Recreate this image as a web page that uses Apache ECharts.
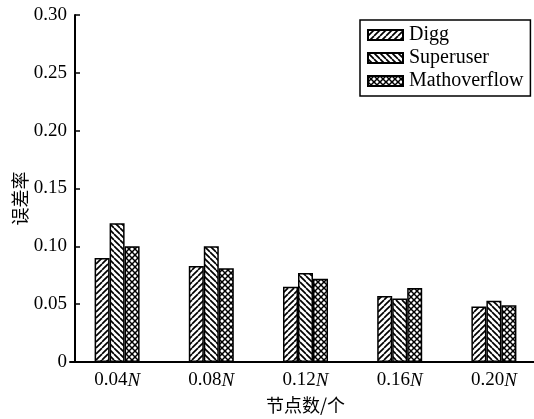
<!DOCTYPE html>
<html><head><meta charset="utf-8">
<script src="https://cdn.jsdelivr.net/npm/echarts@6/dist/echarts.min.js"></script>
<style>html,body{margin:0;padding:0;background:#fff}#c{width:534px;height:419px}</style>
</head><body><div id="c"></div>
<script>
var categories = ['0.04', '0.08', '0.12', '0.16', '0.20'];
var seriesNames = ['Digg', 'Superuser', 'Mathoverflow'];
var diggValues = [0.090, 0.083, 0.065, 0.057, 0.048];
var superuserValues = [0.120, 0.100, 0.077, 0.055, 0.053];
var mathoverflowValues = [0.100, 0.081, 0.072, 0.064, 0.049];
var yTicks = [0, 0.05, 0.10, 0.15, 0.20, 0.25, 0.30];

function makePattern(kind) {
  var s = 6;
  var c = document.createElement('canvas');
  c.width = s; c.height = s;
  var g = c.getContext('2d');
  g.fillStyle = '#fff'; g.fillRect(0, 0, s, s);
  g.strokeStyle = '#000'; g.lineWidth = 1.7;
  function fwd() {
    for (var k = -1; k <= 1; k++) {
      g.beginPath(); g.moveTo(k * s, s); g.lineTo(k * s + s, 0); g.stroke();
    }
  }
  function back() {
    for (var k = -1; k <= 1; k++) {
      g.beginPath(); g.moveTo(k * s, 0); g.lineTo(k * s + s, s); g.stroke();
    }
  }
  if (kind === 0) fwd();
  else if (kind === 1) back();
  else { g.lineWidth = 1.5; fwd(); back(); }
  return {image: c, repeat: 'repeat'};
}

var allValues = [diggValues, superuserValues, mathoverflowValues];
var chart = echarts.init(document.getElementById('c'));
var serif = '"Liberation Serif", "Times New Roman", serif';
var cjk = '"Noto Sans CJK SC", sans-serif';
var series = seriesNames.map(function (name, i) {
  return {
    name: name,
    type: 'bar',
    data: allValues[i],
    barWidth: 15,
    barGap: '0%',
    itemStyle: {color: makePattern(i), borderColor: '#000', borderWidth: 1.5},
    emphasis: {disabled: true}
  };
});

chart.setOption({
  animation: false,
  grid: {left: 70, top: 15, bottom: 57, width: 471, outerBoundsMode: 'none', containLabel: false},
  legend: {
    orient: 'vertical',
    left: 360, top: 20,
    itemWidth: 35, itemHeight: 10,
    itemGap: 3,
    padding: [5, 7, 5, 7],
    borderColor: '#000', borderWidth: 1.5,
    textStyle: {fontFamily: serif, fontSize: 20, color: '#000', padding: [0, 0, 0, 1]},
    data: seriesNames.map(function (n) { return {name: n, icon: 'rect'}; })
  },
  xAxis: {
    type: 'category',
    data: categories,
    axisLine: {lineStyle: {color: '#000', width: 2}},
    axisTick: {show: false},
    axisLabel: {
      margin: 9,
      formatter: function (v) { return '{a|' + v + '}{b|N}'; },
      rich: {
        a: {fontFamily: serif, fontSize: 19, color: '#000'},
        b: {fontFamily: serif, fontSize: 19, color: '#000', fontStyle: 'italic'}
      }
    },
    name: '节点数/个',
    nameLocation: 'middle',
    nameGap: 34,
    nameMoveOverlap: false,
    nameTextStyle: {fontFamily: cjk, fontSize: 18, color: '#000'}
  },
  yAxis: {
    type: 'value',
    min: 0, max: 0.30, interval: 0.05,
    offset: -5,
    splitLine: {show: false},
    axisLine: {show: true, lineStyle: {color: '#000', width: 2}},
    axisTick: {show: true, inside: true, length: 5, lineStyle: {color: '#000', width: 1.5}},
    axisLabel: {
      margin: 8,
      fontFamily: serif, fontSize: 19, color: '#000',
      formatter: function (v) { return v === 0 ? '0' : v.toFixed(2); }
    },
    name: '误差率',
    nameLocation: 'middle',
    nameGap: 46,
    nameMoveOverlap: false,
    nameRotate: 90,
    nameTextStyle: {fontFamily: cjk, fontSize: 18, color: '#000', padding: [0, 20, 0, 0]}
  },
  series: series
});
</script>
</body></html>
